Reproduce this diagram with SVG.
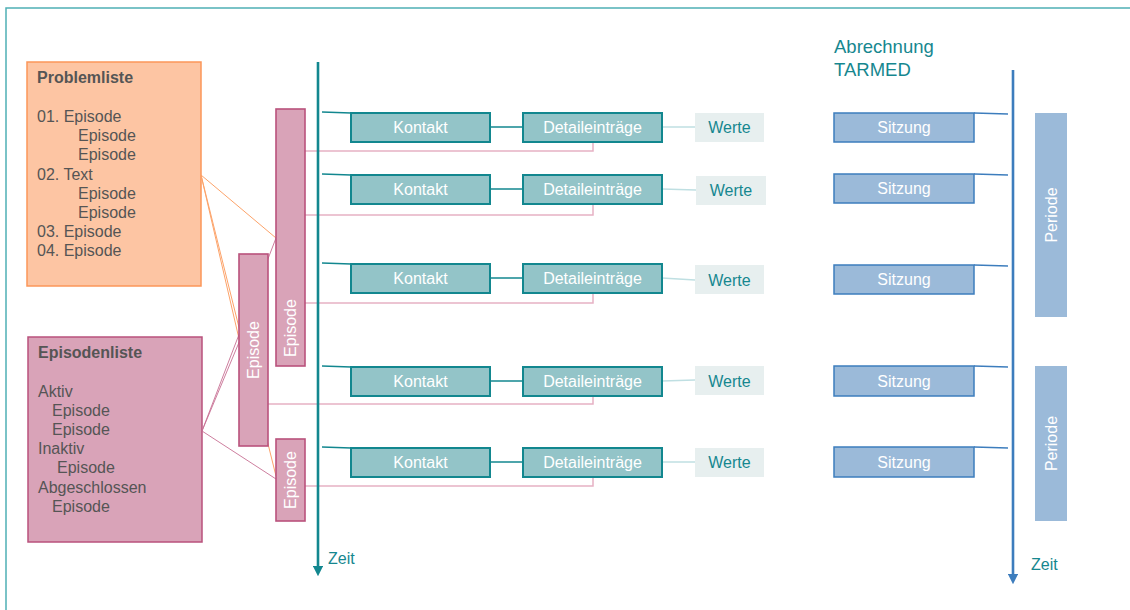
<svg xmlns="http://www.w3.org/2000/svg" width="1130" height="610" viewBox="0 0 1130 610">
  <style>
    text { font-family: "Liberation Sans", Arial, sans-serif; }
    .list { font-size: 16px; fill: #555555; }
    .bold { font-weight: bold; }
    .white { font-size: 16px; fill: #ffffff; text-anchor: middle; }
    .teal { fill: #16878f; }
    .ep { fill: #d9a3b8; stroke: #b9527c; stroke-width: 1.6; }
    .kon { fill: #93c4c8; stroke: #12878f; stroke-width: 2; }
    .wert { fill: #e7efef; }
    .sitz { fill: #9bbad9; stroke: #3d7dbd; stroke-width: 1.5; }
    .per { fill: #9bbad9; }
    .orange { stroke: #fca36a; stroke-width: 1; fill: none; }
    .pinkdiag { stroke: #c76f93; stroke-width: 0.9; fill: none; }
    .pink { stroke: #e6b1c4; stroke-width: 1.5; fill: none; }
    .tealline { stroke: #12878f; stroke-width: 1.3; fill: none; }
    .lightteal { stroke: #bfdfe2; stroke-width: 1.5; fill: none; }
    .blueline { stroke: #3d7dbd; stroke-width: 1.3; fill: none; }
  </style>
  <defs>
    <marker id="arrTeal" viewBox="0 0 10 10" refX="5" refY="5" markerWidth="4" markerHeight="4" orient="auto" markerUnits="strokeWidth">
      <path d="M0,0 L10,5 L0,10 z" fill="#12878f"/>
    </marker>
    <marker id="arrBlue" viewBox="0 0 10 10" refX="5" refY="5" markerWidth="4" markerHeight="4" orient="auto" markerUnits="strokeWidth">
      <path d="M0,0 L10,5 L0,10 z" fill="#3d7dbd"/>
    </marker>
  </defs>

  <!-- frame -->
  <path d="M6,610 L6,8 L1130,8" fill="none" stroke="#4fb0b5" stroke-width="1.5"/>

  <!-- lists -->
  <g id="problemliste">
    <rect x="27" y="62" width="174" height="224" fill="#fdc5a3" stroke="#fb9659" stroke-width="1.5"/>
    <text class="list bold" x="37" y="83">Problemliste</text>
    <text class="list" x="37" y="122">01. Episode</text>
    <text class="list" x="78" y="141">Episode</text>
    <text class="list" x="78" y="160">Episode</text>
    <text class="list" x="37" y="180">02. Text</text>
    <text class="list" x="78" y="199">Episode</text>
    <text class="list" x="78" y="218">Episode</text>
    <text class="list" x="37" y="237">03. Episode</text>
    <text class="list" x="37" y="256">04. Episode</text>
  </g>
  <g id="episodenliste">
    <rect x="28" y="337" width="174" height="205" fill="#d9a3b8" stroke="#b9527c" stroke-width="1.5"/>
    <text class="list bold" x="38" y="358">Episodenliste</text>
    <text class="list" x="38" y="397">Aktiv</text>
    <text class="list" x="52" y="416">Episode</text>
    <text class="list" x="52" y="435">Episode</text>
    <text class="list" x="38" y="454">Inaktiv</text>
    <text class="list" x="57" y="473">Episode</text>
    <text class="list" x="38" y="493">Abgeschlossen</text>
    <text class="list" x="52" y="512">Episode</text>
  </g>

  <!-- connectors -->
  <g id="connectors">
    <!-- list to episode links -->
    <line class="orange" x1="201" y1="175" x2="276" y2="238"/>
    <line class="orange" x1="201" y1="175" x2="240" y2="343"/>
    <line class="orange" x1="201" y1="175" x2="276" y2="476"/>
    <line class="pinkdiag" x1="202" y1="431" x2="276" y2="238"/>
    <line class="pinkdiag" x1="202" y1="431" x2="240" y2="340"/>
    <line class="pinkdiag" x1="202" y1="431" x2="276" y2="479"/>
    <!-- episode to detail links -->
    <polyline class="pink" points="305,151 593,151 593,142"/>
    <polyline class="pink" points="305,215 593,215 593,205"/>
    <polyline class="pink" points="305,303 593,303 593,293"/>
    <polyline class="pink" points="268,404 593,404 593,396"/>
    <polyline class="pink" points="305,486 593,486 593,477"/>
    <!-- timeline to contact -->
    <line class="tealline" x1="322" y1="112" x2="351" y2="113"/>
    <line class="tealline" x1="322" y1="174" x2="351" y2="175"/>
    <line class="tealline" x1="322" y1="263" x2="351" y2="264"/>
    <line class="tealline" x1="322" y1="366" x2="351" y2="367"/>
    <line class="tealline" x1="322" y1="447" x2="351" y2="448"/>
    <!-- contact to detail -->
    <line class="tealline" x1="490" y1="127" x2="523" y2="127"/>
    <line class="tealline" x1="490" y1="189" x2="523" y2="189"/>
    <line class="tealline" x1="490" y1="278" x2="523" y2="278"/>
    <line class="tealline" x1="490" y1="381" x2="523" y2="381"/>
    <line class="tealline" x1="490" y1="462" x2="523" y2="462"/>
    <!-- detail to values -->
    <line class="lightteal" x1="662" y1="127" x2="695" y2="127"/>
    <line class="lightteal" x1="662" y1="189" x2="696" y2="190"/>
    <line class="lightteal" x1="662" y1="278" x2="695" y2="280"/>
    <line class="lightteal" x1="662" y1="381" x2="695" y2="380"/>
    <line class="lightteal" x1="662" y1="462" x2="695" y2="462"/>
    <!-- session to billing timeline -->
    <line class="blueline" x1="974" y1="113" x2="1008" y2="114"/>
    <line class="blueline" x1="974" y1="174" x2="1008" y2="175"/>
    <line class="blueline" x1="974" y1="265" x2="1008" y2="266"/>
    <line class="blueline" x1="974" y1="366" x2="1008" y2="367"/>
    <line class="blueline" x1="974" y1="447" x2="1008" y2="448"/>
  </g>

  <!-- timelines -->
  <g id="zeit-links">
    <line x1="318" y1="62" x2="318" y2="571" stroke="#12878f" stroke-width="2.6" marker-end="url(#arrTeal)"/>
    <text class="teal" x="328" y="564" font-size="16">Zeit</text>
  </g>
  <g id="zeit-rechts">
    <line x1="1013" y1="70" x2="1013" y2="579" stroke="#3d7dbd" stroke-width="2.6" marker-end="url(#arrBlue)"/>
    <text class="teal" x="1031" y="570" font-size="16">Zeit</text>
  </g>

  <!-- episodes -->
  <g id="episode-1">
    <rect class="ep" x="276" y="109" width="29" height="257"/>
    <text class="white" transform="translate(296,328) rotate(-90)">Episode</text>
  </g>
  <g id="episode-2">
    <rect class="ep" x="239" y="254" width="29" height="192"/>
    <text class="white" transform="translate(259,350) rotate(-90)">Episode</text>
  </g>
  <g id="episode-3">
    <rect class="ep" x="276" y="439" width="29" height="82"/>
    <text class="white" transform="translate(296,480) rotate(-90)">Episode</text>
  </g>

  <!-- contacts -->
  <g id="kontakt-1"><rect class="kon" x="351" y="113" width="139" height="29"/><text class="white" x="420.5" y="133">Kontakt</text></g>
  <g id="kontakt-2"><rect class="kon" x="351" y="175" width="139" height="29"/><text class="white" x="420.5" y="195">Kontakt</text></g>
  <g id="kontakt-3"><rect class="kon" x="351" y="264" width="139" height="29"/><text class="white" x="420.5" y="284">Kontakt</text></g>
  <g id="kontakt-4"><rect class="kon" x="351" y="367" width="139" height="29"/><text class="white" x="420.5" y="387">Kontakt</text></g>
  <g id="kontakt-5"><rect class="kon" x="351" y="448" width="139" height="29"/><text class="white" x="420.5" y="468">Kontakt</text></g>

  <!-- detail entries -->
  <g id="detail-1"><rect class="kon" x="523" y="113" width="139" height="29"/><text class="white" x="592.5" y="133">Detaileinträge</text></g>
  <g id="detail-2"><rect class="kon" x="523" y="175" width="139" height="29"/><text class="white" x="592.5" y="195">Detaileinträge</text></g>
  <g id="detail-3"><rect class="kon" x="523" y="264" width="139" height="29"/><text class="white" x="592.5" y="284">Detaileinträge</text></g>
  <g id="detail-4"><rect class="kon" x="523" y="367" width="139" height="29"/><text class="white" x="592.5" y="387">Detaileinträge</text></g>
  <g id="detail-5"><rect class="kon" x="523" y="448" width="139" height="29"/><text class="white" x="592.5" y="468">Detaileinträge</text></g>

  <!-- values -->
  <g id="werte-1"><rect class="wert" x="695" y="113" width="69" height="29"/><text class="teal" x="729.5" y="133" font-size="16" text-anchor="middle">Werte</text></g>
  <g id="werte-2"><rect class="wert" x="696" y="176" width="70" height="29"/><text class="teal" x="731" y="196" font-size="16" text-anchor="middle">Werte</text></g>
  <g id="werte-3"><rect class="wert" x="695" y="265" width="69" height="29"/><text class="teal" x="729.5" y="286" font-size="16" text-anchor="middle">Werte</text></g>
  <g id="werte-4"><rect class="wert" x="695" y="366" width="69" height="29"/><text class="teal" x="729.5" y="387" font-size="16" text-anchor="middle">Werte</text></g>
  <g id="werte-5"><rect class="wert" x="695" y="448" width="69" height="29"/><text class="teal" x="729.5" y="468" font-size="16" text-anchor="middle">Werte</text></g>

  <!-- billing -->
  <g id="abrechnung">
    <text class="teal" x="834" y="53" font-size="18.5">Abrechnung</text>
    <text class="teal" x="834" y="76" font-size="18.5">TARMED</text>
  </g>
  <g id="sitzung-1"><rect class="sitz" x="834" y="113" width="140" height="29"/><text class="white" x="904" y="133">Sitzung</text></g>
  <g id="sitzung-2"><rect class="sitz" x="834" y="174" width="140" height="29"/><text class="white" x="904" y="194">Sitzung</text></g>
  <g id="sitzung-3"><rect class="sitz" x="834" y="265" width="140" height="29"/><text class="white" x="904" y="285">Sitzung</text></g>
  <g id="sitzung-4"><rect class="sitz" x="834" y="366" width="140" height="30"/><text class="white" x="904" y="387">Sitzung</text></g>
  <g id="sitzung-5"><rect class="sitz" x="834" y="447" width="140" height="30"/><text class="white" x="904" y="468">Sitzung</text></g>

  <g id="periode-1">
    <rect class="per" x="1035" y="113" width="32" height="204"/>
    <text class="white" transform="translate(1057,215) rotate(-90)">Periode</text>
  </g>
  <g id="periode-2">
    <rect class="per" x="1035" y="366" width="32" height="155"/>
    <text class="white" transform="translate(1057,443.5) rotate(-90)">Periode</text>
  </g>
</svg>
